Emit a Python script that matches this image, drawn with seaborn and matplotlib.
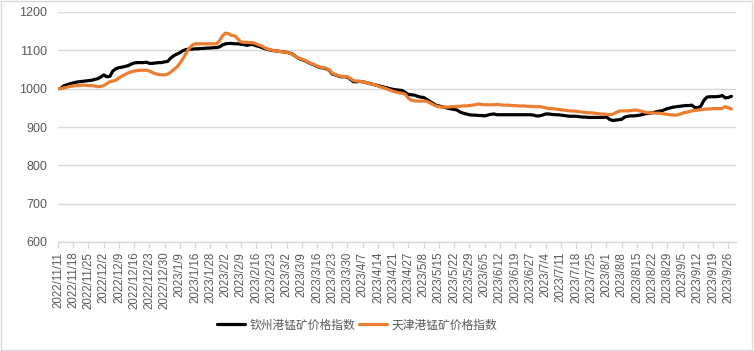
"""Manganese ore price index: Qinzhou vs Tianjin port (daily, base 1000)."""

import matplotlib

matplotlib.use("Agg")
import matplotlib.pyplot as plt
import numpy as np
import pandas as pd
import seaborn as sns
from matplotlib.patches import Rectangle

# tick labels, one every 5 trading days
TICK_LABELS = [
    "2022/11/11", "2022/11/18", "2022/11/25", "2022/12/2", "2022/12/9",
    "2022/12/16", "2022/12/23", "2022/12/30", "2023/1/9", "2023/1/16",
    "2023/1/28", "2023/2/2", "2023/2/9", "2023/2/16", "2023/2/23",
    "2023/3/2", "2023/3/9", "2023/3/16", "2023/3/23", "2023/3/30",
    "2023/4/7", "2023/4/14", "2023/4/21", "2023/4/27", "2023/5/8",
    "2023/5/15", "2023/5/22", "2023/5/29", "2023/6/5", "2023/6/12",
    "2023/6/19", "2023/6/27", "2023/7/4", "2023/7/11", "2023/7/18",
    "2023/7/25", "2023/8/1", "2023/8/8", "2023/8/15", "2023/8/22",
    "2023/8/29", "2023/9/5", "2023/9/12", "2023/9/19", "2023/9/26",
]

SERIES_NAMES = ["钦州港锰矿价格指数", "天津港锰矿价格指数"]

# 钦州港 (black), one value per trading day
qinzhou = [
    1000, 1001, 1008, 1010, 1013, 1015, 1017, 1018, 1019, 1020,
    1021, 1022, 1024, 1026, 1030, 1036, 1031, 1032, 1046, 1052,
    1055, 1056, 1058, 1060, 1064, 1067, 1068, 1068, 1068, 1069,
    1066, 1066, 1067, 1068, 1068, 1070, 1071, 1080, 1086, 1090,
    1094, 1099, 1102, 1103, 1103, 1104, 1104, 1105, 1105, 1106,
    1106, 1107, 1107, 1109, 1114, 1117, 1118, 1118, 1117, 1117,
    1116, 1115, 1113, 1115, 1115, 1112, 1110, 1107, 1104, 1102,
    1100, 1099, 1098, 1097, 1096, 1095, 1093, 1090, 1084, 1079,
    1076, 1073, 1069, 1065, 1062, 1058, 1055, 1054, 1052, 1048,
    1038, 1036, 1033, 1031, 1031, 1030, 1024, 1018, 1018, 1019,
    1018, 1016, 1014, 1012, 1010, 1008, 1006, 1004, 1002, 1000,
    998, 997, 996, 995, 990, 985, 984, 983, 980, 978,
    977, 972, 967, 962, 957, 955, 953, 951, 949, 947,
    946, 944, 939, 936, 934, 932, 931, 931, 930, 930,
    929, 931, 933, 934, 932, 932, 932, 932, 932, 932,
    932, 932, 932, 932, 932, 932, 931, 929, 929, 931,
    934, 934, 933, 932, 932, 931, 930, 929, 928, 928,
    928, 927, 926, 926, 925, 925, 925, 925, 925, 925,
    926, 920, 917, 918, 919, 920, 926, 928, 929, 929,
    930, 931, 933, 935, 936, 937, 939, 941, 942, 945,
    948, 950, 952, 953, 954, 955, 956, 956, 957, 951,
    950, 955, 970, 978, 979, 979, 979, 980, 982, 976,
    977, 980,
]

# 天津港 (orange)
tianjin = [
    1000, 1000, 1002, 1004, 1006, 1007, 1008, 1008, 1009, 1009,
    1008, 1008, 1007, 1005, 1006, 1008, 1013, 1018, 1020, 1022,
    1028, 1033, 1037, 1041, 1044, 1046, 1047, 1048, 1048, 1048,
    1046, 1042, 1039, 1037, 1036, 1036, 1038, 1043, 1050, 1056,
    1066, 1078, 1092, 1105, 1113, 1117, 1117, 1117, 1117, 1117,
    1117, 1117, 1117, 1125, 1138, 1145, 1143, 1139, 1138, 1130,
    1122, 1121, 1121, 1120, 1120, 1117, 1114, 1111, 1106, 1103,
    1101, 1099, 1098, 1097, 1096, 1095, 1093, 1089, 1084, 1080,
    1077, 1074, 1070, 1066, 1063, 1059, 1056, 1055, 1053, 1049,
    1040, 1037, 1034, 1032, 1032, 1031, 1026, 1021, 1020, 1019,
    1018, 1016, 1014, 1012, 1010, 1007, 1004, 1002, 999, 996,
    993, 991, 989, 988, 985, 975, 970, 968, 968, 967,
    968, 967, 963, 959, 955, 953, 952, 952, 952, 953,
    953, 954, 954, 955, 955, 956, 957, 958, 960, 959,
    958, 958, 958, 958, 959, 958, 957, 957, 957, 956,
    956, 955, 955, 955, 954, 954, 953, 953, 953, 952,
    950, 948, 948, 947, 946, 945, 944, 943, 942, 942,
    941, 940, 939, 938, 937, 937, 936, 935, 934, 934,
    933, 932, 933, 937, 941, 942, 942, 942, 943, 944,
    944, 942, 940, 938, 937, 937, 936, 936, 935, 934,
    933, 932, 931, 931, 933, 936, 938, 940, 942, 943,
    944, 945, 946, 947, 947, 948, 948, 948, 949, 953,
    950, 947,
]

df = pd.DataFrame({
    "idx": np.arange(len(qinzhou)),
    SERIES_NAMES[0]: qinzhou,
    SERIES_NAMES[1]: tianjin,
}).melt(id_vars="idx", var_name="series", value_name="value")

sns.set_style("white")
plt.rcParams["font.family"] = ["Noto Sans CJK SC", "DejaVu Sans"]

GRAY = "#595959"
fig = plt.figure(figsize=(7.54, 3.51), dpi=100)
ax = fig.add_axes([58 / 754, 1 - 242 / 351, (736 - 58) / 754, 230 / 351])

sns.lineplot(
    data=df, x="idx", y="value", hue="series",
    palette={SERIES_NAMES[0]: "#000000", SERIES_NAMES[1]: "#ED7D31"},
    linewidth=2.3, ax=ax, legend=True,
)

ax.set_ylim(600, 1200)
ax.set_yticks(range(600, 1201, 100))
ax.set_xlim(0, 222.5)
ax.set_xticks(np.arange(len(TICK_LABELS)) * 5)
ax.set_xticklabels(TICK_LABELS, rotation=90, fontsize=8.3, color=GRAY,
                   family=["Liberation Sans", "DejaVu Sans"])
for lbl in ax.get_yticklabels():
    lbl.set_fontsize(9)
    lbl.set_color(GRAY)
    lbl.set_family(["Liberation Sans", "DejaVu Sans"])
ax.set_xlabel("")
ax.set_ylabel("")

ax.grid(axis="y", color="#d9d9d9", linewidth=1)
ax.set_axisbelow(True)
for side in ["top", "right", "left"]:
    ax.spines[side].set_visible(False)
ax.spines["bottom"].set_color("#d9d9d9")
ax.spines["bottom"].set_linewidth(1)
ax.tick_params(axis="x", length=4, color="#d9d9d9", width=1, pad=3, bottom=True)
ax.tick_params(axis="y", length=0, pad=8)

handles, labels = ax.get_legend_handles_labels()
ax.legend_.remove()
fig.legend(handles, labels, loc="center", bbox_to_anchor=(357 / 754, 1 - 325 / 351),
           ncol=2, frameon=False, fontsize=8.5, handlelength=2.4,
           handletextpad=0.35, columnspacing=0.3, labelcolor=GRAY)

fig.patches.append(Rectangle((0.001, 0.002), 0.997, 0.995, transform=fig.transFigure,
                             fill=False, edgecolor="#d9d9d9", linewidth=1))

fig.savefig("out.png", dpi=100)
